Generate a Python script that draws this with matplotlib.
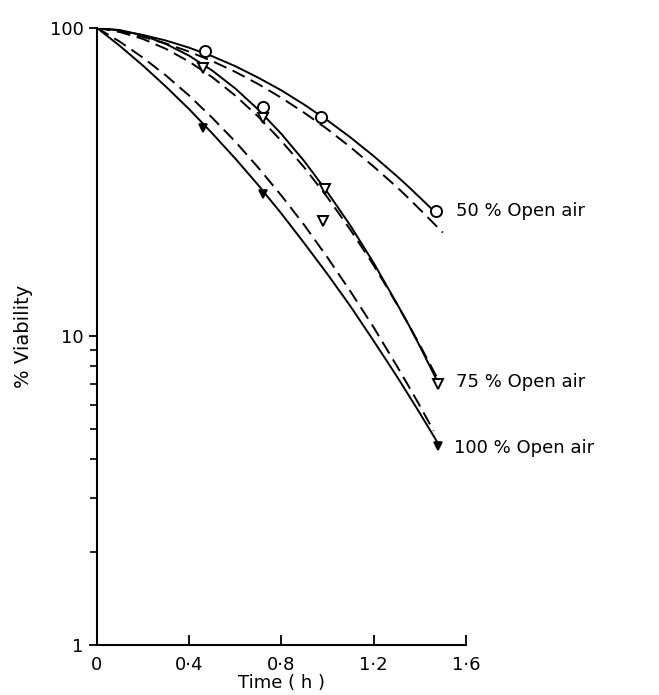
import numpy as np
import matplotlib.pyplot as plt
from matplotlib.ticker import FixedLocator, NullFormatter

# measured points (time in h, % viability)
t50 = [0.47, 0.72, 0.97, 1.47]
v50 = [84, 55.5, 51.5, 25.4]
t75 = [0.46, 0.72, 0.99, 0.98, 1.48]
v75 = [74, 51, 30, 23.7, 7.0]
t100 = [0.46, 0.72, 1.48]
v100 = [47.5, 29, 4.4]

# fitted curves
tc = [0, 0.1, 0.2, 0.3, 0.4, 0.5, 0.6, 0.7, 0.8, 0.9, 1.0, 1.1, 1.2, 1.3, 1.35, 1.4]
c50_solid = [100, 97.9, 94.8, 90.9, 86.2, 80.9, 75.1, 68.9, 62.7, 56.3, 50.1, 44.1, 38.4, 33.1, 30.6, 28.2]
c50_dash = [100, 97.2, 93.4, 88.9, 83.7, 78.0, 72.0, 65.7, 59.3, 53.0, 46.9, 41.0, 35.5, 30.5, 28.1, 25.8]
c75_solid = [100, 98.3, 94.5, 88.6, 81.2, 72.7, 63.6, 54.3, 45.3, 36.9, 29.3, 22.8, 17.3, 12.8, 10.96, 9.30]
c75_dash = [100, 96.9, 92.0, 85.4, 77.7, 69.2, 60.3, 51.5, 43.0, 35.2, 28.2, 22.1, 17.0, 12.75, 10.97, 9.38]
c100_solid = [100, 87.3, 75.4, 64.4, 54.5, 45.5, 37.7, 30.9, 25.0, 20.0, 15.9, 12.5, 9.67, 7.43, 6.48, 5.64]
c100_dash = [100, 90.1, 80.0, 70.0, 60.3, 51.1, 42.8, 35.2, 28.6, 22.9, 18.0, 13.96, 10.7, 8.03, 6.93, 5.96]
# curve end points
end50 = (1.47, 25.1)
end50d = (1.5, 21.7)
end75 = (1.48, 7.06)
end75d = (1.48, 7.23)
end100 = (1.48, 4.49)
end100d = (1.46, 4.94)

labels = ["50 % Open air", "75 % Open air", "100 % Open air"]
label_pos = [(1.555, 25.4), (1.555, 7.1), (1.55, 4.35)]

xticks = [0, 0.4, 0.8, 1.2, 1.6]
xticklabels = ["0", "0\u00b74", "0\u00b78", "1\u00b72", "1\u00b76"]

fig = plt.figure(figsize=(6.59, 6.95), dpi=100)
ax = fig.add_axes([0.147, 0.072, 0.56, 0.888])

dash = (0, (7, 3.5))
curves = [
    (c50_solid, end50, "-"), (c50_dash, end50d, dash),
    (c75_solid, end75, "-"), (c75_dash, end75d, dash),
    (c100_solid, end100, "-"), (c100_dash, end100d, dash),
]
for vals, end, ls in curves:
    ax.plot(tc + [end[0]], vals + [end[1]], color="black", lw=1.4, linestyle=ls)

ax.plot(t50, v50, "o", ms=8, mfc="white", mec="black", mew=1.4, clip_on=False)
ax.plot(t75, v75, "v", ms=7, mfc="white", mec="black", mew=1.4, clip_on=False)
ax.plot(t100, v100, "v", ms=6, mfc="black", mec="black", mew=1.2, clip_on=False)

for lab, (x, y) in zip(labels, label_pos):
    ax.text(x, y, lab, fontsize=13, va="center", ha="left", clip_on=False)

ax.set_yscale("log")
ax.set_xlim(0, 1.6)
ax.set_ylim(1, 100)
ax.spines["top"].set_visible(False)
ax.spines["right"].set_visible(False)
ax.spines["left"].set_linewidth(1.5)
ax.spines["bottom"].set_linewidth(1.5)

ax.set_xticks(xticks)
ax.set_xticklabels(xticklabels)
ax.tick_params(axis="x", direction="in", length=7, width=1.3, labelsize=13, pad=8)
ax.set_yticks([1, 10, 100])
ax.set_yticklabels(["1", "10", "100"])
ax.yaxis.set_minor_locator(FixedLocator([2, 3, 4, 5, 6, 7, 8, 9]))
ax.yaxis.set_minor_formatter(NullFormatter())
ax.tick_params(axis="y", which="major", direction="out", length=6, width=1.3, labelsize=13)
ax.tick_params(axis="y", which="minor", direction="out", length=5, width=1.2)

ax.set_xlabel("Time ( h )", fontsize=13, labelpad=0)
ax.set_ylabel("% Viability", fontsize=14, labelpad=12)

fig.savefig("out.png", dpi=100)
